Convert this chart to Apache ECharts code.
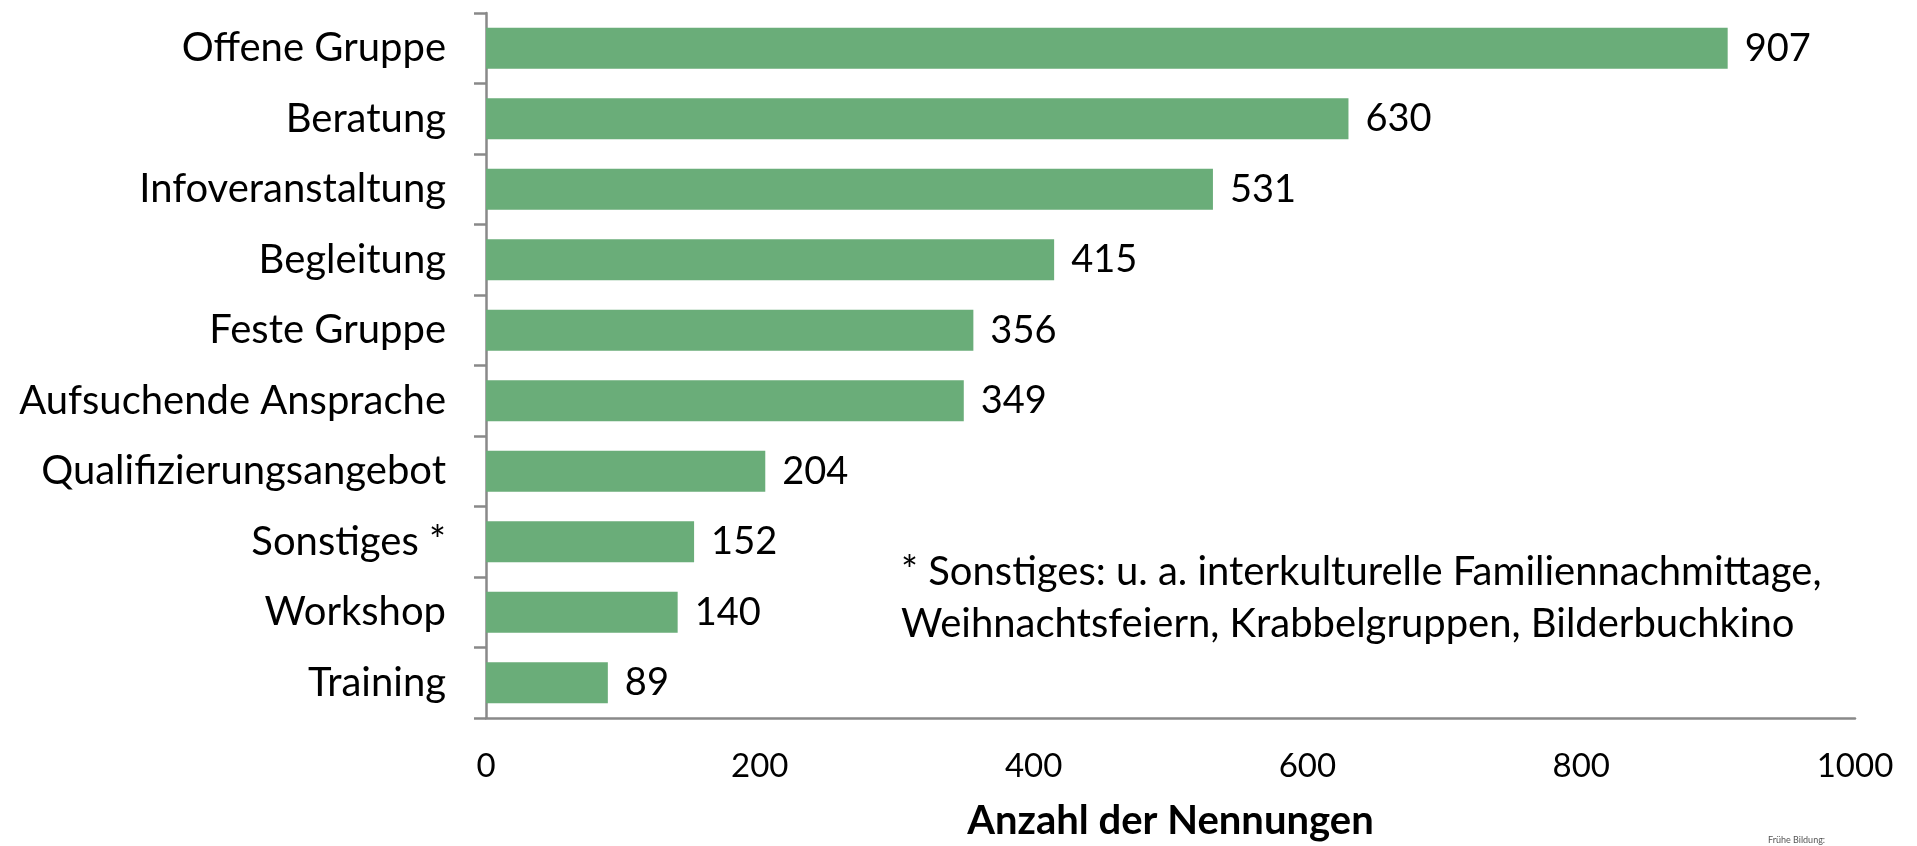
<!DOCTYPE html>
<html>
<head>
<meta charset="utf-8">
<script src="https://cdn.jsdelivr.net/npm/echarts@6/dist/echarts.min.js"></script>
<style>html,body{margin:0;padding:0;background:#fff;}#c{width:1917px;height:846px;}</style>
</head>
<body>
<div id="c"></div>
<script>
const categories = ['Offene Gruppe','Beratung','Infoveranstaltung','Begleitung','Feste Gruppe','Aufsuchende Ansprache','Qualifizierungsangebot','Sonstiges *','Workshop','Training'];
const values = [907,630,531,415,356,349,204,152,140,89];
const xTicks = [0,200,400,600,800,1000];
const axisTitle = 'Anzahl der Nennungen';
const footnote = ['* Sonstiges: u. a. interkulturelle Familiennachmittage,','Weihnachtsfeiern, Krabbelgruppen, Bilderbuchkino'];

const chart = echarts.init(document.getElementById('c'));
const FONT = 'Lato';
chart.setOption({
  animation: false,
  backgroundColor: '#ffffff',
  textStyle: { fontFamily: FONT },
  grid: { left: 486, right: 62, top: 13, bottom: 121, containLabel: false },
  xAxis: {
    type: 'value', min: xTicks[0], max: xTicks[xTicks.length-1], interval: 200,
    axisLine: { show: true, lineStyle: { color: '#898989', width: 2.5 } },
    axisTick: { show: false },
    splitLine: { show: false },
    axisLabel: { color: '#000', fontSize: 33, margin: 32, fontFamily: FONT, formatter: v => String(v) },
    name: axisTitle, nameLocation: 'middle', nameGap: 83,
    nameTextStyle: { color: '#000', fontSize: 40, fontWeight: 'bold', fontFamily: FONT }
  },
  yAxis: {
    type: 'category', data: categories, inverse: true,
    axisLine: { show: true, lineStyle: { color: '#898989', width: 2.5 } },
    axisTick: { show: true, length: 12, lineStyle: { color: '#898989', width: 2.5 } },
    axisLabel: { color: '#000', fontSize: 40, margin: 40, fontFamily: FONT }
  },
  series: [{
    type: 'bar', data: values, barCategoryGap: '42%',
    itemStyle: { color: '#6aad79' },
    label: { show: true, position: 'right', distance: 17, color: '#000', fontSize: 38, fontFamily: FONT }
  }],
  graphic: [{
    type: 'text', left: 901, top: 546,
    style: { text: footnote.join('\n'), fontSize: 40, lineHeight: 52, fill: '#000', fontFamily: FONT }
  },{
    type: 'text', left: 1768, top: 836,
    style: { text: 'Frühe Bildung:', fontSize: 9, fill: '#555', fontFamily: FONT }
  }]
});
</script>
</body>
</html>
